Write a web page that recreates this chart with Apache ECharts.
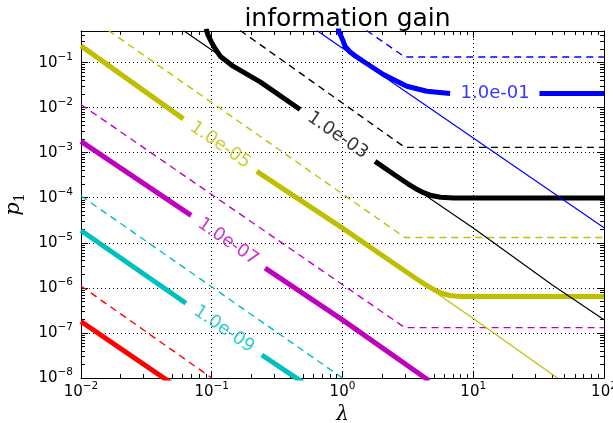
<!DOCTYPE html>
<html><head><meta charset="utf-8">
<script src="https://cdn.jsdelivr.net/npm/echarts@6/dist/echarts.min.js"></script>
<style>html,body{margin:0;padding:0;background:#fff}#c{width:613px;height:423px}</style>
</head><body><div id="c"></div>
<script>
// ---- axes ----
const xMin = 0.01, xMax = 100, yMin = 1e-8, yMax = 0.5;
const xMajorTicks = [0.01, 0.1, 1, 10, 100];
const yMajorTicks = [1e-8, 1e-7, 1e-6, 1e-5, 1e-4, 1e-3, 1e-2, 1e-1];
const xMinorTicks = [0.02,0.03,0.04,0.05,0.06,0.07,0.08,0.09, 0.2,0.3,0.4,0.5,0.6,0.7,0.8,0.9,
  2,3,4,5,6,7,8,9, 20,30,40,50,60,70,80,90];
const yMinorTicks = [2e-8,3e-8,4e-8,5e-8,6e-8,7e-8,8e-8,9e-8, 2e-7,3e-7,4e-7,5e-7,6e-7,7e-7,8e-7,9e-7,
  2e-6,3e-6,4e-6,5e-6,6e-6,7e-6,8e-6,9e-6, 2e-5,3e-5,4e-5,5e-5,6e-5,7e-5,8e-5,9e-5,
  2e-4,3e-4,4e-4,5e-4,6e-4,7e-4,8e-4,9e-4, 2e-3,3e-3,4e-3,5e-3,6e-3,7e-3,8e-3,9e-3,
  2e-2,3e-2,4e-2,5e-2,6e-2,7e-2,8e-2,9e-2, 0.2,0.3,0.4];

// ---- contour data [lambda, p1] ----
// red (1e-11)
const redThick = [[[0.01, 1.79e-7], [0.05, 7.4e-9]]];
const redDashed = [[[0.01, 1.1e-6], [0.1, 1e-8]]];
// cyan (1e-09)
const cyanThick = [[[0.01, 1.88e-5], [0.0635, 4.57e-7]], [[0.2415, 3.24e-8], [0.5, 7.9e-9]]];
const cyanDashed = [[[0.01, 1.1e-4], [1.0, 1e-8]]];
// magenta (1e-07)
const magThick = [[[0.01, 1.78e-3], [0.0695, 4.05e-5]], [[0.256, 2.73e-6], [1.0, 1.95e-7], [4.6, 8.7e-9]]];
const magDashed = [[[0.01, 1.17e-2], [3.0, 1.31e-7], [100, 1.31e-7]]];
// yellow (1e-05)
const yelThick = [[[0.01, 0.234], [0.0607, 5.61e-3]],
  [[0.221, 3.85e-4], [1.0, 2.12e-5], [3.55, 1.70e-6], [4.27, 1.20e-6], [5.01, 9.12e-7], [5.75, 7.59e-7],
   [6.61, 6.76e-7], [7.94, 6.46e-7], [100, 6.41e-7]]];
const yelDashed = [[[0.0162, 0.514], [3.0, 1.31e-5], [100, 1.31e-5]]];
const yelThin = [[[2, 5.3e-6], [10, 2.1e-7], [44, 1e-8]]];
// black (1e-03)
const blkThick = [[[0.0904, 0.562], [0.0904, 0.514], [0.0938, 0.398], [0.0989, 0.293], [0.106, 0.205],
   [0.116, 0.138], [0.1455, 0.0828], [0.2344, 0.0372], [0.4742, 9.04e-3]],
  [[1.774, 6.41e-4], [2.512, 3.2e-4], [3.162, 2.04e-4], [3.631, 1.585e-4], [4.169, 1.29e-4],
   [4.786, 1.12e-4], [5.623, 1.023e-4], [7.079, 9.89e-5], [100, 9.84e-5]]];
const blkDashed = [[[0.165, 0.514], [3.0, 1.31e-3], [100, 1.31e-3]]];
const blkThin = [[[0.0607, 0.514], [0.13, 0.112]], [[2, 5.1e-4], [10, 2.12e-5], [40, 1.17e-6], [100, 1.95e-7]]];
// blue (1e-01)
const bluThick = [[[0.931, 0.631], [0.931, 0.514], [1.0, 0.324], [1.047, 0.227], [1.143, 0.171],
   [1.259, 0.138], [1.489, 0.1], [2.056, 0.0541], [3.105, 0.0297], [4.416, 0.0230], [6.653, 0.0205]],
  [[32.1, 0.0205], [100, 0.0205]]];
const bluDashed = [[[1.53, 0.514], [3.0, 0.132], [100, 0.132]]];
const bluThin = [[[0.635, 0.514], [100, 2.15e-5]]];

// contour labels [lambda, p1, text]
const contourLabels = [
  [0.124, 1.21e-7, '1.0e-09'],
  [0.133, 1.05e-5, '1.0e-07'],
  [0.116, 1.47e-3, '1.0e-05'],
  [0.917, 2.41e-3, '1.0e-03'],
  [14.7, 0.0205, '1.0e-01']
];
const labelColors = ['#00bfbf', '#bf00bf', '#bfbf00', '#000000', '#0000ff'];
const labelRotate = [-34.5, -34.5, -34.5, -34.5, 0];

const C = {r: '#ff0000', c: '#00bfbf', m: '#bf00bf', y: '#bfbf00', k: '#000000', b: '#0000ff'};
const series = [];
function addLine(segs, color, width, dash, z) {
  segs.forEach(seg => series.push({
    type: 'line', data: seg, xAxisIndex: 0, yAxisIndex: 0, symbol: 'none', showSymbol: false,
    silent: true, animation: false, clip: true, z: z,
    lineStyle: {color: color, width: width, type: dash || 'solid', cap: 'butt', join: 'round'}
  }));
}
const THICK = 5, THIN = 1.2, DW = 1.4, DASH = [7, 5];
addLine(redThick, C.r, THICK, null, 2);
addLine(cyanThick, C.c, THICK, null, 2);
addLine(magThick, C.m, THICK, null, 2);
addLine(yelThick, C.y, THICK, null, 2);
addLine(blkThick, C.k, THICK, null, 2);
addLine(bluThick, C.b, THICK, null, 2);
addLine(redDashed, C.r, DW, DASH, 3);
addLine(cyanDashed, C.c, DW, DASH, 3);
addLine(magDashed, C.m, DW, DASH, 3);
addLine(yelDashed, C.y, DW, DASH, 3);
addLine(blkDashed, C.k, DW, DASH, 3);
addLine(bluDashed, C.b, DW, DASH, 3);
addLine(yelThin, C.y, THIN, null, 4);
addLine(blkThin, C.k, THIN, null, 4);
addLine(bluThin, C.b, THIN, null, 4);

series.push({
  type: 'scatter', xAxisIndex: 0, yAxisIndex: 0, symbolSize: 1, silent: true, animation: false, z: 5,
  itemStyle: {color: 'rgba(0,0,0,0)'},
  data: contourLabels.map((d, i) => ({
    value: [d[0], d[1]],
    label: {show: true, position: 'inside', formatter: d[2], rotate: labelRotate[i], color: labelColors[i],
      fontSize: 18, fontFamily: 'DejaVu Sans'}
  }))
});

const FONT = 'DejaVu Sans';
function expFmt(v) {
  const e = Math.round(Math.log10(v));
  return '{b|10}{s|' + (e < 0 ? '\u2212' + (-e) : e) + '}';
}
const rich = {
  b: {fontSize: 15, fontFamily: FONT, color: '#000', lineHeight: 16, verticalAlign: 'bottom'},
  s: {fontSize: 10.5, fontFamily: FONT, color: '#000', lineHeight: 11, padding: [0, 0, 8, 0], verticalAlign: 'bottom'}
};
const dotted = {show: true, lineStyle: {color: '#000', width: 1, type: [1, 3]}};
function logAxis(extra, min, max) {
  return Object.assign({type: 'log', logBase: 10, min: min, max: max, gridIndex: 0,
    axisLine: {show: true, onZero: false, lineStyle: {color: '#000', width: 1}},
    splitLine: {show: false}, minorTick: {show: false}, minorSplitLine: {show: false},
    axisLabel: {show: false}}, extra);
}
const majorTick = (vals) => ({show: true, inside: true, length: 7, customValues: vals, lineStyle: {color: '#000', width: 1}});
const minorTickS = (vals) => ({show: true, inside: true, length: 4, customValues: vals, lineStyle: {color: '#000', width: 1}});

const option = {
  backgroundColor: '#fff',
  animation: false,
  title: {text: 'information gain', left: 342.5, textAlign: 'center', top: 2,
    textStyle: {fontFamily: FONT, fontSize: 25, fontWeight: 'normal', color: '#000'}},
  grid: {left: 81, right: 9, top: 31, bottom: 45, containLabel: false, outerBoundsMode: 'none'},
  xAxis: [
    logAxis({position: 'bottom', axisTick: majorTick(xMajorTicks), splitLine: dotted,
      axisLabel: {show: true, customValues: xMajorTicks, formatter: expFmt, rich: rich, margin: 6},
      name: 'λ', nameLocation: 'middle', nameGap: 26,
      nameTextStyle: {fontFamily: 'DejaVu Serif', fontStyle: 'italic', fontSize: 20, color: '#000'}}, xMin, xMax),
    logAxis({position: 'bottom', axisLine: {show: false, onZero: false}, axisTick: minorTickS(xMinorTicks)}, xMin, xMax),
    logAxis({position: 'top', axisTick: majorTick(xMajorTicks)}, xMin, xMax),
    logAxis({position: 'top', axisLine: {show: false, onZero: false}, axisTick: minorTickS(xMinorTicks)}, xMin, xMax)
  ],
  yAxis: [
    logAxis({position: 'left', axisTick: majorTick(yMajorTicks), splitLine: dotted,
      axisLabel: {show: true, customValues: yMajorTicks, formatter: expFmt, rich: rich, margin: 8},
      name: '{p|p}{sub|1}', nameLocation: 'middle', nameGap: 46, nameRotate: 90,
      nameTextStyle: {rich: {
        p: {fontFamily: 'DejaVu Serif', fontStyle: 'italic', fontSize: 21, color: '#000', lineHeight: 22, verticalAlign: 'top'},
        sub: {fontFamily: 'DejaVu Serif', fontSize: 14, color: '#000', lineHeight: 14, padding: [10, 0, 0, 0], verticalAlign: 'top'}
      }}}, yMin, yMax),
    logAxis({position: 'left', axisLine: {show: false, onZero: false}, axisTick: minorTickS(yMinorTicks)}, yMin, yMax),
    logAxis({position: 'right', axisTick: majorTick(yMajorTicks)}, yMin, yMax),
    logAxis({position: 'right', axisLine: {show: false, onZero: false}, axisTick: minorTickS(yMinorTicks)}, yMin, yMax)
  ],
  series: series
};
const chart = echarts.init(document.getElementById('c'), null, {renderer: 'canvas'});
chart.setOption(option);
</script></body></html>
